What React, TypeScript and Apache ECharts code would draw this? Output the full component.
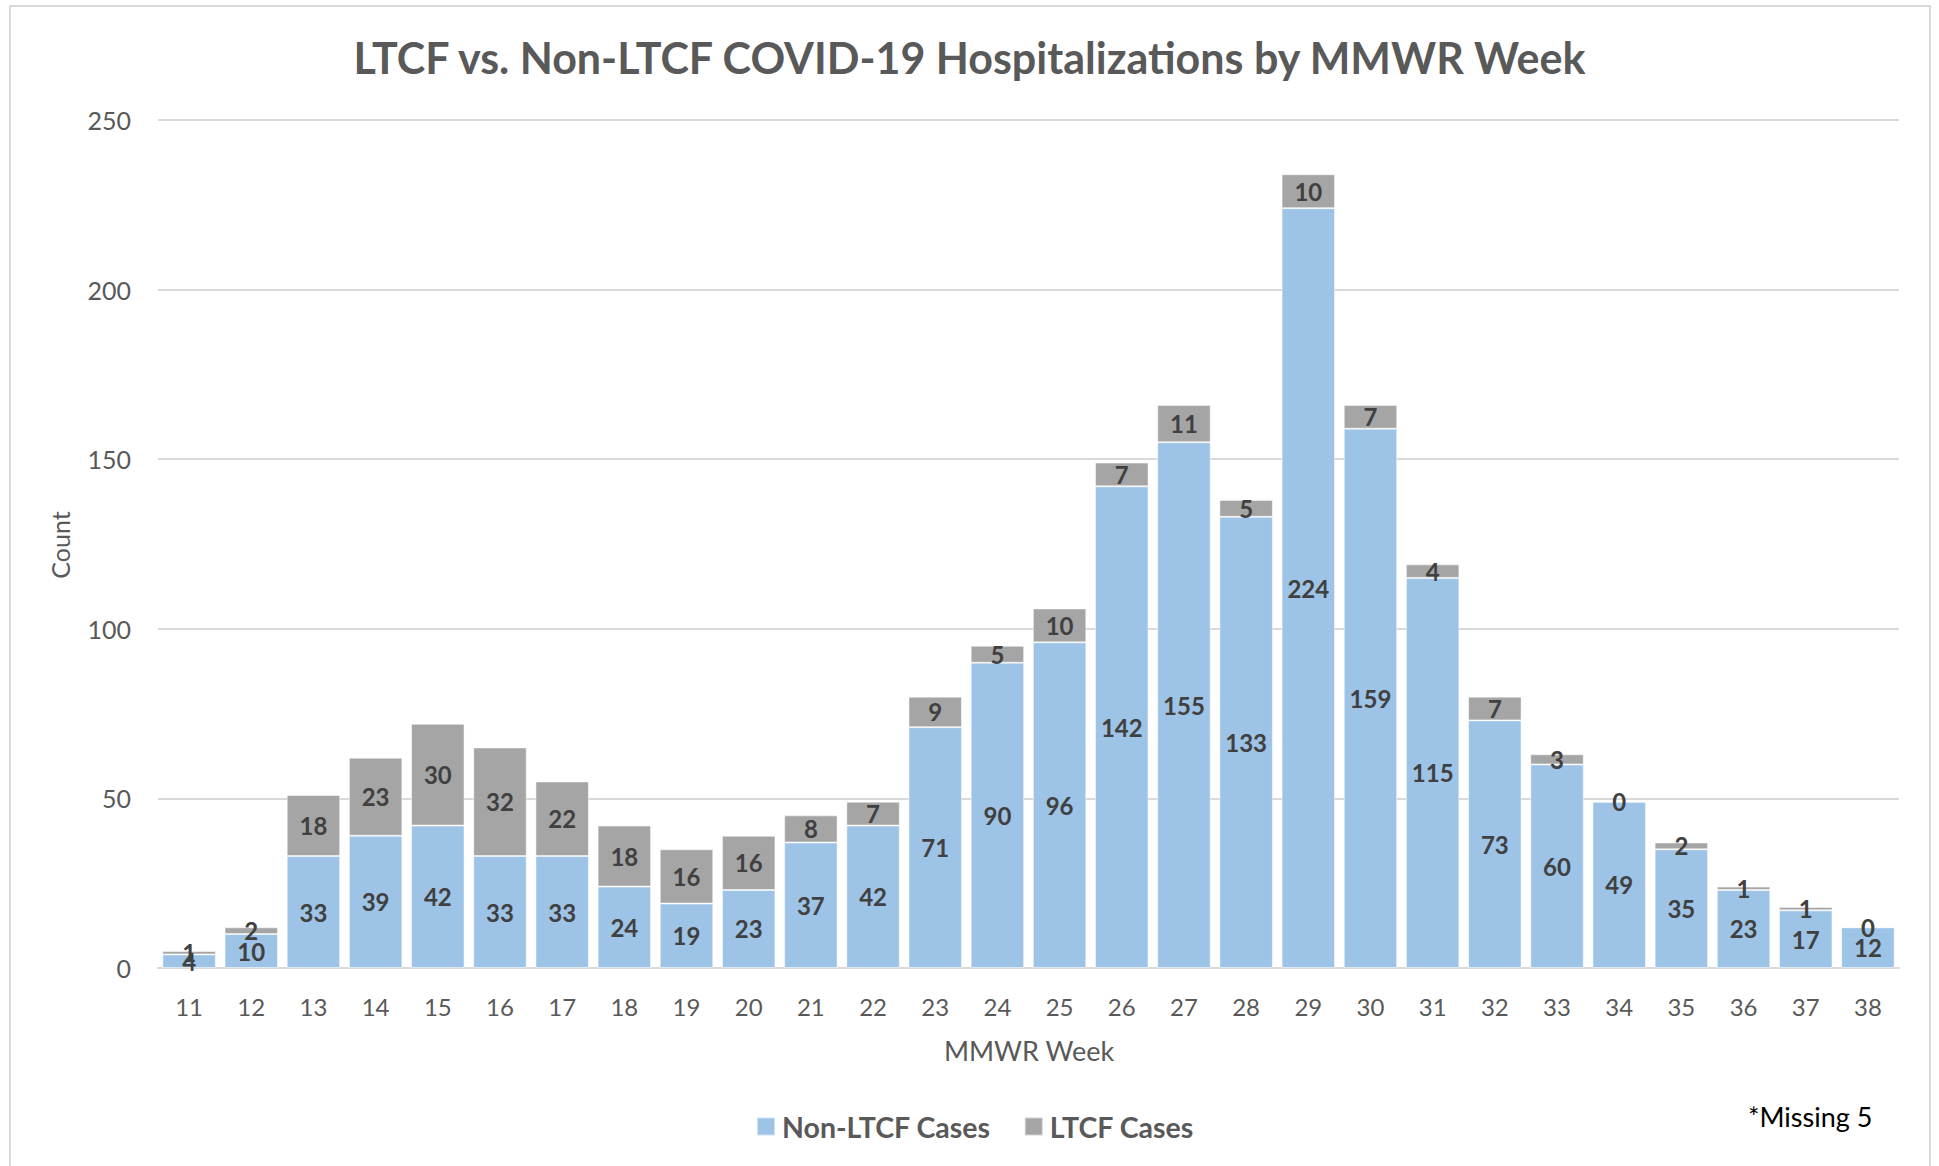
import React, { useEffect, useRef } from "react";
import * as echarts from "echarts";

const weeks: string[] = ["11","12","13","14","15","16","17","18","19","20","21","22","23","24","25","26","27","28","29","30","31","32","33","34","35","36","37","38"];
const nonLtcfCases: number[] = [4,10,33,39,42,33,33,24,19,23,37,42,71,90,96,142,155,133,224,159,115,73,60,49,35,23,17,12];
const ltcfCases: number[] = [1,2,18,23,30,32,22,18,16,16,8,7,9,5,10,7,11,5,10,7,4,7,3,0,2,1,1,0];
const yTicks = { min: 0, max: 250, interval: 50 };

const FONT = "Lato, 'Open Sans', sans-serif";

export default function App() {
  const ref = useRef<HTMLDivElement>(null);
  useEffect(() => {
    if (!ref.current) return;
    const chart = echarts.init(ref.current, undefined, { renderer: "svg" });
    const labelStyle = {
      show: true,
      position: "inside" as const,
      color: "#404040",
      fontFamily: FONT,
      fontWeight: "bold" as const,
      fontSize: 24,
    };
    chart.setOption({
      animation: false,
      backgroundColor: "#ffffff",
      textStyle: { fontFamily: FONT },
      title: {
        text: "LTCF vs. Non-LTCF COVID-19 Hospitalizations by MMWR Week",
        left: "center",
        top: 31,
        textStyle: { fontFamily: FONT, fontWeight: "bold", fontSize: 43, color: "#595959" },
      },
      legend: {
        left: 751,
        top: 1107,
        icon: "rect",
        itemWidth: 18,
        itemHeight: 18,
        itemGap: 33,
        textStyle: { fontFamily: FONT, fontWeight: "bold", fontSize: 28.5, color: "#595959", padding: [0, 0, 0, 2] },
        data: ["Non-LTCF Cases", "LTCF Cases"],
      },
      grid: { left: 158, right: 40, top: 120, bottom: 198, containLabel: false },
      xAxis: {
        type: "category",
        data: weeks,
        axisLine: { lineStyle: { color: "#d9d9d9", width: 2 } },
        axisTick: { show: false },
        axisLabel: { color: "#595959", fontSize: 24, fontFamily: FONT, margin: 26 },
      },
      yAxis: {
        type: "value",
        min: yTicks.min,
        max: yTicks.max,
        interval: yTicks.interval,
        axisLine: { show: false },
        axisTick: { show: false },
        splitLine: { lineStyle: { color: "#d9d9d9", width: 2 } },
        axisLabel: { color: "#595959", fontSize: 25, fontFamily: FONT, margin: 27 },
      },
      series: [
        {
          name: "Non-LTCF Cases",
          type: "bar",
          stack: "total",
          data: nonLtcfCases,
          barCategoryGap: "14%",
          itemStyle: { color: "#9DC3E6", borderColor: "rgba(255,255,255,0.5)", borderWidth: 1 },
          label: labelStyle,
        },
        {
          name: "LTCF Cases",
          type: "bar",
          stack: "total",
          data: ltcfCases,
          barCategoryGap: "14%",
          itemStyle: { color: "#A5A5A5", borderColor: "rgba(255,255,255,0.5)", borderWidth: 1 },
          label: labelStyle,
        },
      ],
      graphic: [
        {
          type: "rect",
          shape: { x: 10, y: 6, width: 1920, height: 1170 },
          style: { fill: "none", stroke: "#d9d9d9", lineWidth: 2 },
          silent: true,
          z: -10,
        },
        {
          type: "text",
          x: 60,
          y: 545,
          rotation: Math.PI / 2,
          style: { text: "Count", fontFamily: FONT, fontSize: 25, fill: "#595959", textAlign: "center", textVerticalAlign: "middle" },
        },
        {
          type: "text",
          x: 1029,
          y: 1050,
          style: { text: "MMWR Week", fontFamily: FONT, fontSize: 27, fill: "#595959", textAlign: "center", textVerticalAlign: "middle" },
        },
        {
          type: "text",
          x: 1748,
          y: 1116,
          style: { text: "*Missing 5", fontFamily: FONT, fontSize: 27, fill: "#000000", textAlign: "left", textVerticalAlign: "middle" },
        },
      ],
    });
    return () => chart.dispose();
  }, []);
  return (
    <div
      ref={ref}
      style={{ position: "absolute", left: 0, top: 0, width: 1939, height: 1166 }}
    />
  );
}
